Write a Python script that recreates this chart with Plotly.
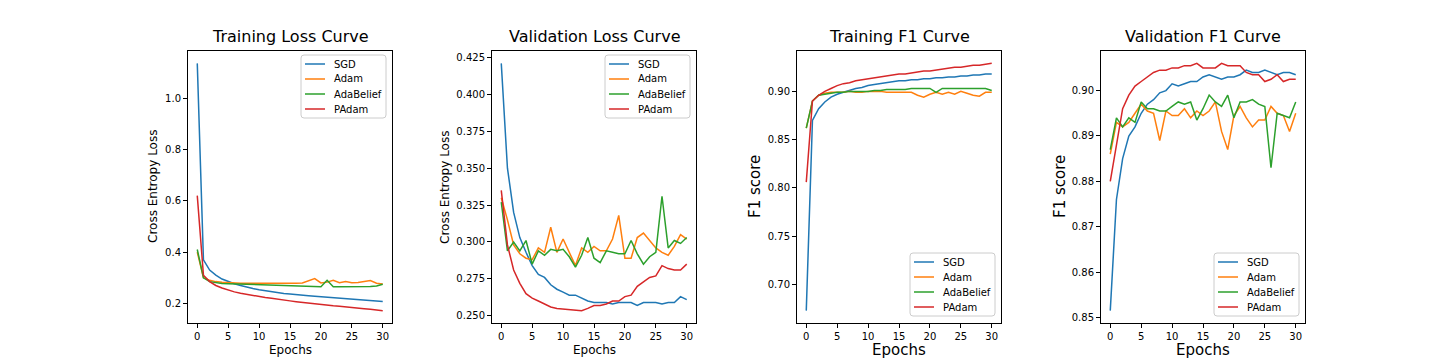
# -*- coding: utf-8 -*-
import math
import plotly.graph_objects as go

# | data section |
epochs = list(range(31))
optimizers = ["SGD", "Adam", "AdaBelief", "PAdam"]

train_loss_sgd = [1.135, 0.37, 0.33, 0.31, 0.295, 0.285, 0.277, 0.27, 0.263, 0.258, 0.253,
                  0.249, 0.245, 0.242, 0.239, 0.237, 0.234, 0.232, 0.23, 0.228, 0.226,
                  0.224, 0.222, 0.22, 0.219, 0.217, 0.215, 0.213, 0.212, 0.21, 0.208]
train_loss_adam = [0.40, 0.30, 0.29, 0.285, 0.283, 0.281, 0.28, 0.279, 0.279, 0.279, 0.278,
                   0.277, 0.277, 0.277, 0.277, 0.278, 0.279, 0.28, 0.288, 0.297, 0.28,
                   0.283, 0.29, 0.281, 0.285, 0.281, 0.282, 0.287, 0.289, 0.279, 0.276]
train_loss_adabelief = [0.41, 0.30, 0.285, 0.28, 0.278, 0.277, 0.276, 0.275, 0.274, 0.273, 0.272,
                        0.271, 0.27, 0.269, 0.268, 0.267, 0.267, 0.266, 0.266, 0.266, 0.265,
                        0.29, 0.265, 0.265, 0.265, 0.265, 0.265, 0.265, 0.266, 0.268, 0.275]
train_loss_padam = [0.62, 0.31, 0.285, 0.27, 0.26, 0.252, 0.245, 0.24, 0.235, 0.231, 0.227,
                    0.223, 0.22, 0.216, 0.213, 0.21, 0.207, 0.204, 0.202, 0.199, 0.196,
                    0.194, 0.191, 0.189, 0.186, 0.184, 0.181, 0.179, 0.177, 0.175, 0.172]

val_loss_sgd = [0.421, 0.350, 0.320, 0.303, 0.293, 0.284, 0.278, 0.276, 0.271, 0.268, 0.266,
                0.264, 0.264, 0.262, 0.260, 0.259, 0.259, 0.259, 0.258, 0.259, 0.259,
                0.259, 0.257, 0.259, 0.259, 0.259, 0.258, 0.259, 0.259, 0.263, 0.261]
val_loss_adam = [0.330, 0.315, 0.298, 0.292, 0.289, 0.288, 0.296, 0.293, 0.310, 0.293, 0.302,
                 0.293, 0.284, 0.296, 0.293, 0.297, 0.294, 0.294, 0.302, 0.318, 0.289,
                 0.289, 0.303, 0.306, 0.301, 0.296, 0.293, 0.291, 0.297, 0.305, 0.302]
val_loss_adabelief = [0.327, 0.294, 0.300, 0.294, 0.301, 0.285, 0.294, 0.291, 0.295, 0.294, 0.295,
                      0.290, 0.283, 0.291, 0.303, 0.289, 0.286, 0.294, 0.293, 0.292, 0.292,
                      0.301, 0.292, 0.285, 0.290, 0.293, 0.331, 0.296, 0.301, 0.299, 0.303]
val_loss_padam = [0.335, 0.298, 0.281, 0.272, 0.265, 0.262, 0.260, 0.258, 0.256, 0.255, 0.2545,
                  0.254, 0.254, 0.2535, 0.255, 0.257, 0.257, 0.258, 0.260, 0.260, 0.263,
                  0.264, 0.270, 0.273, 0.276, 0.277, 0.284, 0.282, 0.281, 0.281, 0.285]

train_f1_sgd = [0.673, 0.87, 0.882, 0.889, 0.894, 0.897, 0.899, 0.901, 0.903, 0.904, 0.906,
                0.907, 0.908, 0.909, 0.910, 0.911, 0.911, 0.912, 0.912, 0.913, 0.913,
                0.914, 0.914, 0.915, 0.915, 0.916, 0.916, 0.917, 0.917, 0.918, 0.918]
train_f1_adam = [0.862, 0.89, 0.896, 0.898, 0.899, 0.899, 0.899, 0.9, 0.899, 0.899, 0.9,
                 0.9, 0.9, 0.899, 0.899, 0.899, 0.899, 0.899, 0.896, 0.894, 0.897,
                 0.899, 0.897, 0.899, 0.897, 0.9, 0.898, 0.896, 0.895, 0.899, 0.899]
train_f1_adabelief = [0.862, 0.89, 0.896, 0.897, 0.898, 0.899, 0.899, 0.9, 0.9, 0.9, 0.9,
                      0.901, 0.901, 0.902, 0.902, 0.902, 0.902, 0.903, 0.903, 0.903, 0.903,
                      0.899, 0.903, 0.903, 0.903, 0.903, 0.903, 0.903, 0.903, 0.903, 0.901]
train_f1_padam = [0.806, 0.89, 0.896, 0.9, 0.903, 0.906, 0.908, 0.909, 0.911, 0.912, 0.913,
                  0.914, 0.915, 0.916, 0.917, 0.918, 0.918, 0.919, 0.920, 0.921, 0.921,
                  0.922, 0.923, 0.924, 0.925, 0.925, 0.926, 0.927, 0.927, 0.928, 0.929]

val_f1_sgd = [0.8515, 0.876, 0.885, 0.890, 0.892, 0.895, 0.897, 0.898, 0.8995, 0.900, 0.9015,
              0.901, 0.9015, 0.902, 0.902, 0.903, 0.9035, 0.903, 0.9025, 0.903, 0.903,
              0.9035, 0.9045, 0.904, 0.904, 0.9045, 0.904, 0.9035, 0.904, 0.904, 0.9035]
val_f1_adam = [0.886, 0.893, 0.892, 0.893, 0.895, 0.897, 0.8955, 0.895, 0.889, 0.8955, 0.8945,
               0.8945, 0.896, 0.894, 0.8955, 0.8945, 0.8955, 0.8975, 0.891, 0.887, 0.8945,
               0.8965, 0.894, 0.892, 0.8935, 0.8935, 0.8965, 0.895, 0.8945, 0.891, 0.895]
val_f1_adabelief = [0.887, 0.894, 0.892, 0.894, 0.893, 0.8975, 0.896, 0.896, 0.8955, 0.8955, 0.8965,
                    0.8975, 0.897, 0.8975, 0.8935, 0.896, 0.899, 0.8975, 0.8965, 0.899, 0.894,
                    0.8975, 0.8975, 0.898, 0.897, 0.8965, 0.883, 0.895, 0.8945, 0.894, 0.8975]
val_f1_padam = [0.880, 0.888, 0.896, 0.899, 0.901, 0.902, 0.903, 0.904, 0.9045, 0.9045, 0.905,
                0.905, 0.9055, 0.9055, 0.906, 0.905, 0.905, 0.905, 0.906, 0.9055, 0.9055,
                0.9055, 0.904, 0.9035, 0.9035, 0.902, 0.9025, 0.9035, 0.902, 0.9025, 0.9025]

titles = ["Training Loss Curve", "Validation Loss Curve", "Training F1 Curve", "Validation F1 Curve"]
ylabels = ["Cross Entropy Loss", "Cross Entropy Loss", "F1 score", "F1 score"]
panels = [
    [train_loss_sgd, train_loss_adam, train_loss_adabelief, train_loss_padam],
    [val_loss_sgd, val_loss_adam, val_loss_adabelief, val_loss_padam],
    [train_f1_sgd, train_f1_adam, train_f1_adabelief, train_f1_padam],
    [val_f1_sgd, val_f1_adam, val_f1_adabelief, val_f1_padam],
]

# | style section |
W, H = 1440, 360
colors = ["#1f77b4", "#ff7f0e", "#2ca02c", "#d62728"]
x_domains = [(180, 384), (484, 688), (789, 993), (1093, 1297)]
y_top, y_bottom = 43, 315
ytick_step = [0.2, 0.025, 0.05, 0.01]
ytick_fmt = [".1f", ".3f", ".2f", ".2f"]
label_size = [12, 12, 15, 15]
legend_pos = ["top", "top", "bottom", "bottom"]
ylabel_x = [145, 437, 747, 1052]
FONT = "DejaVu Sans"


def px(x):
    return x / W


def py(y):
    return 1 - y / H


def rounded_box(x0, y0, x1, y1, r=3):
    """svg path (paper coords) of a rounded rectangle given in pixels"""
    pts = [
        f"M {px(x0 + r)},{py(y0)}", f"L {px(x1 - r)},{py(y0)}",
        f"Q {px(x1)},{py(y0)} {px(x1)},{py(y0 + r)}", f"L {px(x1)},{py(y1 - r)}",
        f"Q {px(x1)},{py(y1)} {px(x1 - r)},{py(y1)}", f"L {px(x0 + r)},{py(y1)}",
        f"Q {px(x0)},{py(y1)} {px(x0)},{py(y1 - r)}", f"L {px(x0)},{py(y0 + r)}",
        f"Q {px(x0)},{py(y0)} {px(x0 + r)},{py(y0)}", "Z",
    ]
    return " ".join(pts)


fig = go.Figure()
layout = {}
annotations = []
shapes = []

for i, series in enumerate(panels):
    k = "" if i == 0 else str(i + 1)
    for name, vals, col in zip(optimizers, series, colors):
        fig.add_trace(
            go.Scatter(
                x=epochs, y=vals, name=name, mode="lines",
                line={"color": col, "width": 1.5},
                xaxis="x" + k, yaxis="y" + k, showlegend=False,
            )
        )

    # matplotlib style autoscale (5% margins)
    lo = min(min(s) for s in series)
    hi = max(max(s) for s in series)
    pad = (hi - lo) * 0.05
    step = ytick_step[i]
    n0 = math.ceil((lo - pad) / step - 1e-6)
    n1 = math.floor((hi + pad) / step + 1e-6)
    tickvals = [round(n * step, 4) for n in range(n0, n1 + 1)]

    x0, x1 = x_domains[i]
    axis_common = dict(
        showline=True, linecolor="black", linewidth=1, mirror=True,
        showgrid=False, zeroline=False, ticks="outside", ticklen=4,
        tickcolor="black", tickfont=dict(family=FONT, size=10, color="black"),
    )
    layout["xaxis" + k] = dict(
        domain=[px(x0), px(x1)], anchor="y" + k, range=[-1.5, 31.5],
        tickvals=[0, 5, 10, 15, 20, 25, 30], **axis_common,
    )
    layout["yaxis" + k] = dict(
        domain=[py(y_bottom), py(y_top)], anchor="x" + k,
        range=[lo - pad, hi + pad], tickvals=tickvals, tickformat=ytick_fmt[i],
        **axis_common,
    )

    # --- legend box (matplotlib look)
    bw, bh = 85, 63
    bx1 = x1 - 6
    bx0 = bx1 - bw
    by0 = y_top + 4 if legend_pos[i] == "top" else y_bottom - 7 - bh
    shapes.append(dict(
        type="path", path=rounded_box(bx0, by0, bx1, by0 + bh),
        xref="paper", yref="paper", fillcolor="rgba(255,255,255,0.8)",
        line=dict(color="#cccccc", width=1),
    ))
    for j, (name, col) in enumerate(zip(optimizers, colors)):
        ry = by0 + 9 + 15 * j
        shapes.append(dict(
            type="line", xref="paper", yref="paper",
            x0=px(bx0 + 4), x1=px(bx0 + 24), y0=py(ry), y1=py(ry),
            line=dict(color=col, width=1.5),
        ))
        annotations.append(dict(
            text=name, x=px(bx0 + 31), y=py(ry), xref="paper", yref="paper",
            xanchor="left", yanchor="middle", showarrow=False,
            font=dict(family=FONT, size=10, color="black"),
        ))

    cx = px((x0 + x1) / 2)
    annotations.append(dict(
        text=titles[i], x=cx, y=py(y_top), xref="paper", yref="paper",
        xanchor="center", yanchor="bottom", yshift=3, showarrow=False,
        font=dict(family=FONT, size=16, color="black"),
    ))
    annotations.append(dict(
        text="Epochs", x=cx, y=py(342), xref="paper", yref="paper",
        xanchor="center", yanchor="middle", showarrow=False,
        font=dict(family=FONT, size=label_size[i], color="black"),
    ))
    annotations.append(dict(
        text=ylabels[i], x=px(ylabel_x[i]), y=py((y_top + y_bottom) / 2),
        xref="paper", yref="paper", xanchor="center", yanchor="middle",
        textangle=-90, showarrow=False,
        font=dict(family=FONT, size=label_size[i], color="black"),
    ))

fig.update_layout(
    width=W, height=H, margin=dict(l=0, r=0, t=0, b=0),
    paper_bgcolor="white", plot_bgcolor="white",
    font=dict(family=FONT, color="black"),
    annotations=annotations, shapes=shapes, showlegend=False,
    **layout,
)

fig.write_html("out.html")
